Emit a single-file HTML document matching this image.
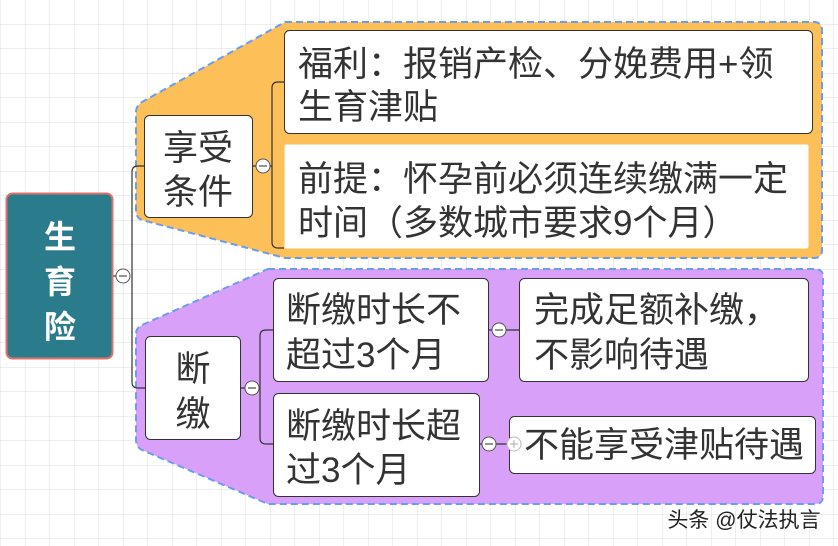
<!DOCTYPE html>
<html><head><meta charset="utf-8"><style>
html,body{margin:0;padding:0;width:838px;height:546px;overflow:hidden;background:#fff}
svg{display:block}
text{font-family:"Liberation Sans","Noto Sans CJK SC",sans-serif;fill:#333}
</style></head><body>
<svg width="838" height="546" viewBox="0 0 838 546" xmlns="http://www.w3.org/2000/svg">
<defs>
<pattern id="g" x="1" y="0" width="24.5" height="24.5" patternUnits="userSpaceOnUse">
<path d="M24.5 0V24.5M0 24.5H24.5" stroke="#dcdcdc" stroke-width="1" fill="none"/>
</pattern>
</defs>
<rect width="838" height="546" fill="url(#g)"/>
<path d="M285 22 H814 Q822 22 822 30 V250 Q822 258 814 258 H285 L142 220 Q136 218 136 210 V112 Q136 106 142 102 Z" fill="#fdbf58" stroke="#6a9cf0" stroke-width="2" stroke-dasharray="7,4"/>
<path d="M268 269 H815 Q823 269 823 277 V496 Q823 504 815 504 H268 L142 450 Q136 447 136 440 V334 Q136 328 142 325 Z" fill="#d8a0f8" stroke="#6a9cf0" stroke-width="2" stroke-dasharray="7,4"/>
<g stroke="#333" stroke-width="1.2" fill="none">
<path d="M113 276 H123"/>
<path d="M144 166 H138 Q132 166 132 172 V382 Q132 388 138 388 H145"/>
<path d="M252 166 H272"/>
<path d="M284 82 H278 Q272 82 272 88 V242 Q272 248 278 248 H284"/>
<path d="M240 388 H260"/>
<path d="M273 330 H266 Q260 330 260 336 V438 Q260 444 266 444 H273"/>
<path d="M489 330 H519"/>
<path d="M479 444 H510"/>
</g>
<rect x="6.5" y="193.5" width="106" height="165" rx="6" fill="#2a7b8c" stroke="#e0706a" stroke-width="2"/>
<g font-size="32" font-weight="bold" text-anchor="middle">
<text x="60" y="248" style="fill:#fff">生</text>
<text x="60" y="293" style="fill:#fff">育</text>
<text x="60" y="338" style="fill:#fff">险</text>
</g>
<g fill="#fff" stroke="#333" stroke-width="1">
<rect x="144.5" y="115.5" width="108" height="102" rx="5"/>
<rect x="284.5" y="30.5" width="528" height="103" rx="5"/>
<rect x="284.5" y="144.5" width="524" height="104" rx="2" stroke="none"/>
<rect x="145.5" y="336.5" width="95" height="103" rx="5"/>
<rect x="273.5" y="278.5" width="215" height="103" rx="5"/>
<rect x="519.5" y="278.5" width="289" height="103" rx="5"/>
<rect x="273.5" y="393.5" width="206" height="103" rx="5"/>
<rect x="509.5" y="416.5" width="306" height="57" rx="5"/>
</g>
<g font-size="35">
<text x="198" y="160" text-anchor="middle">享受</text>
<text x="198" y="204" text-anchor="middle">条件</text>
<text x="298" y="76">福利：报销产检、分娩费用+领</text>
<text x="298" y="119">生育津贴</text>
<text x="298" y="191">前提：怀孕前必须连续缴满一定</text>
<text x="298" y="235">时间（多数城市要求9个月）</text>
<text x="193" y="381" text-anchor="middle">断</text>
<text x="193" y="426" text-anchor="middle">缴</text>
<text x="286" y="322">断缴时长不</text>
<text x="286" y="367">超过3个月</text>
<text x="534" y="322">完成足额补缴，</text>
<text x="534" y="367">不影响待遇</text>
<text x="286" y="438">断缴时长超</text>
<text x="286" y="482">过3个月</text>
<text x="524" y="457">不能享受津贴待遇</text>
</g>
<g fill="#fff" stroke="#555" stroke-width="1">
<circle cx="123" cy="276" r="7"/>
<circle cx="263" cy="166" r="7"/>
<circle cx="252" cy="388" r="7"/>
<circle cx="499" cy="330" r="7"/>
<circle cx="489" cy="444" r="7"/>
<circle cx="514" cy="444" r="7" stroke="#bbb"/>
</g>
<g stroke="#555" stroke-width="1.2">
<path d="M119 276H127M259 166H267M248 388H256M495 330H503M485 444H493"/>
<path d="M510 444H518M514 440V448" stroke="#bbb"/>
</g>
<text x="744" y="527" font-size="21" text-anchor="middle" style="fill:#222">头条 @仗法执言</text>
</svg>
</body></html>
